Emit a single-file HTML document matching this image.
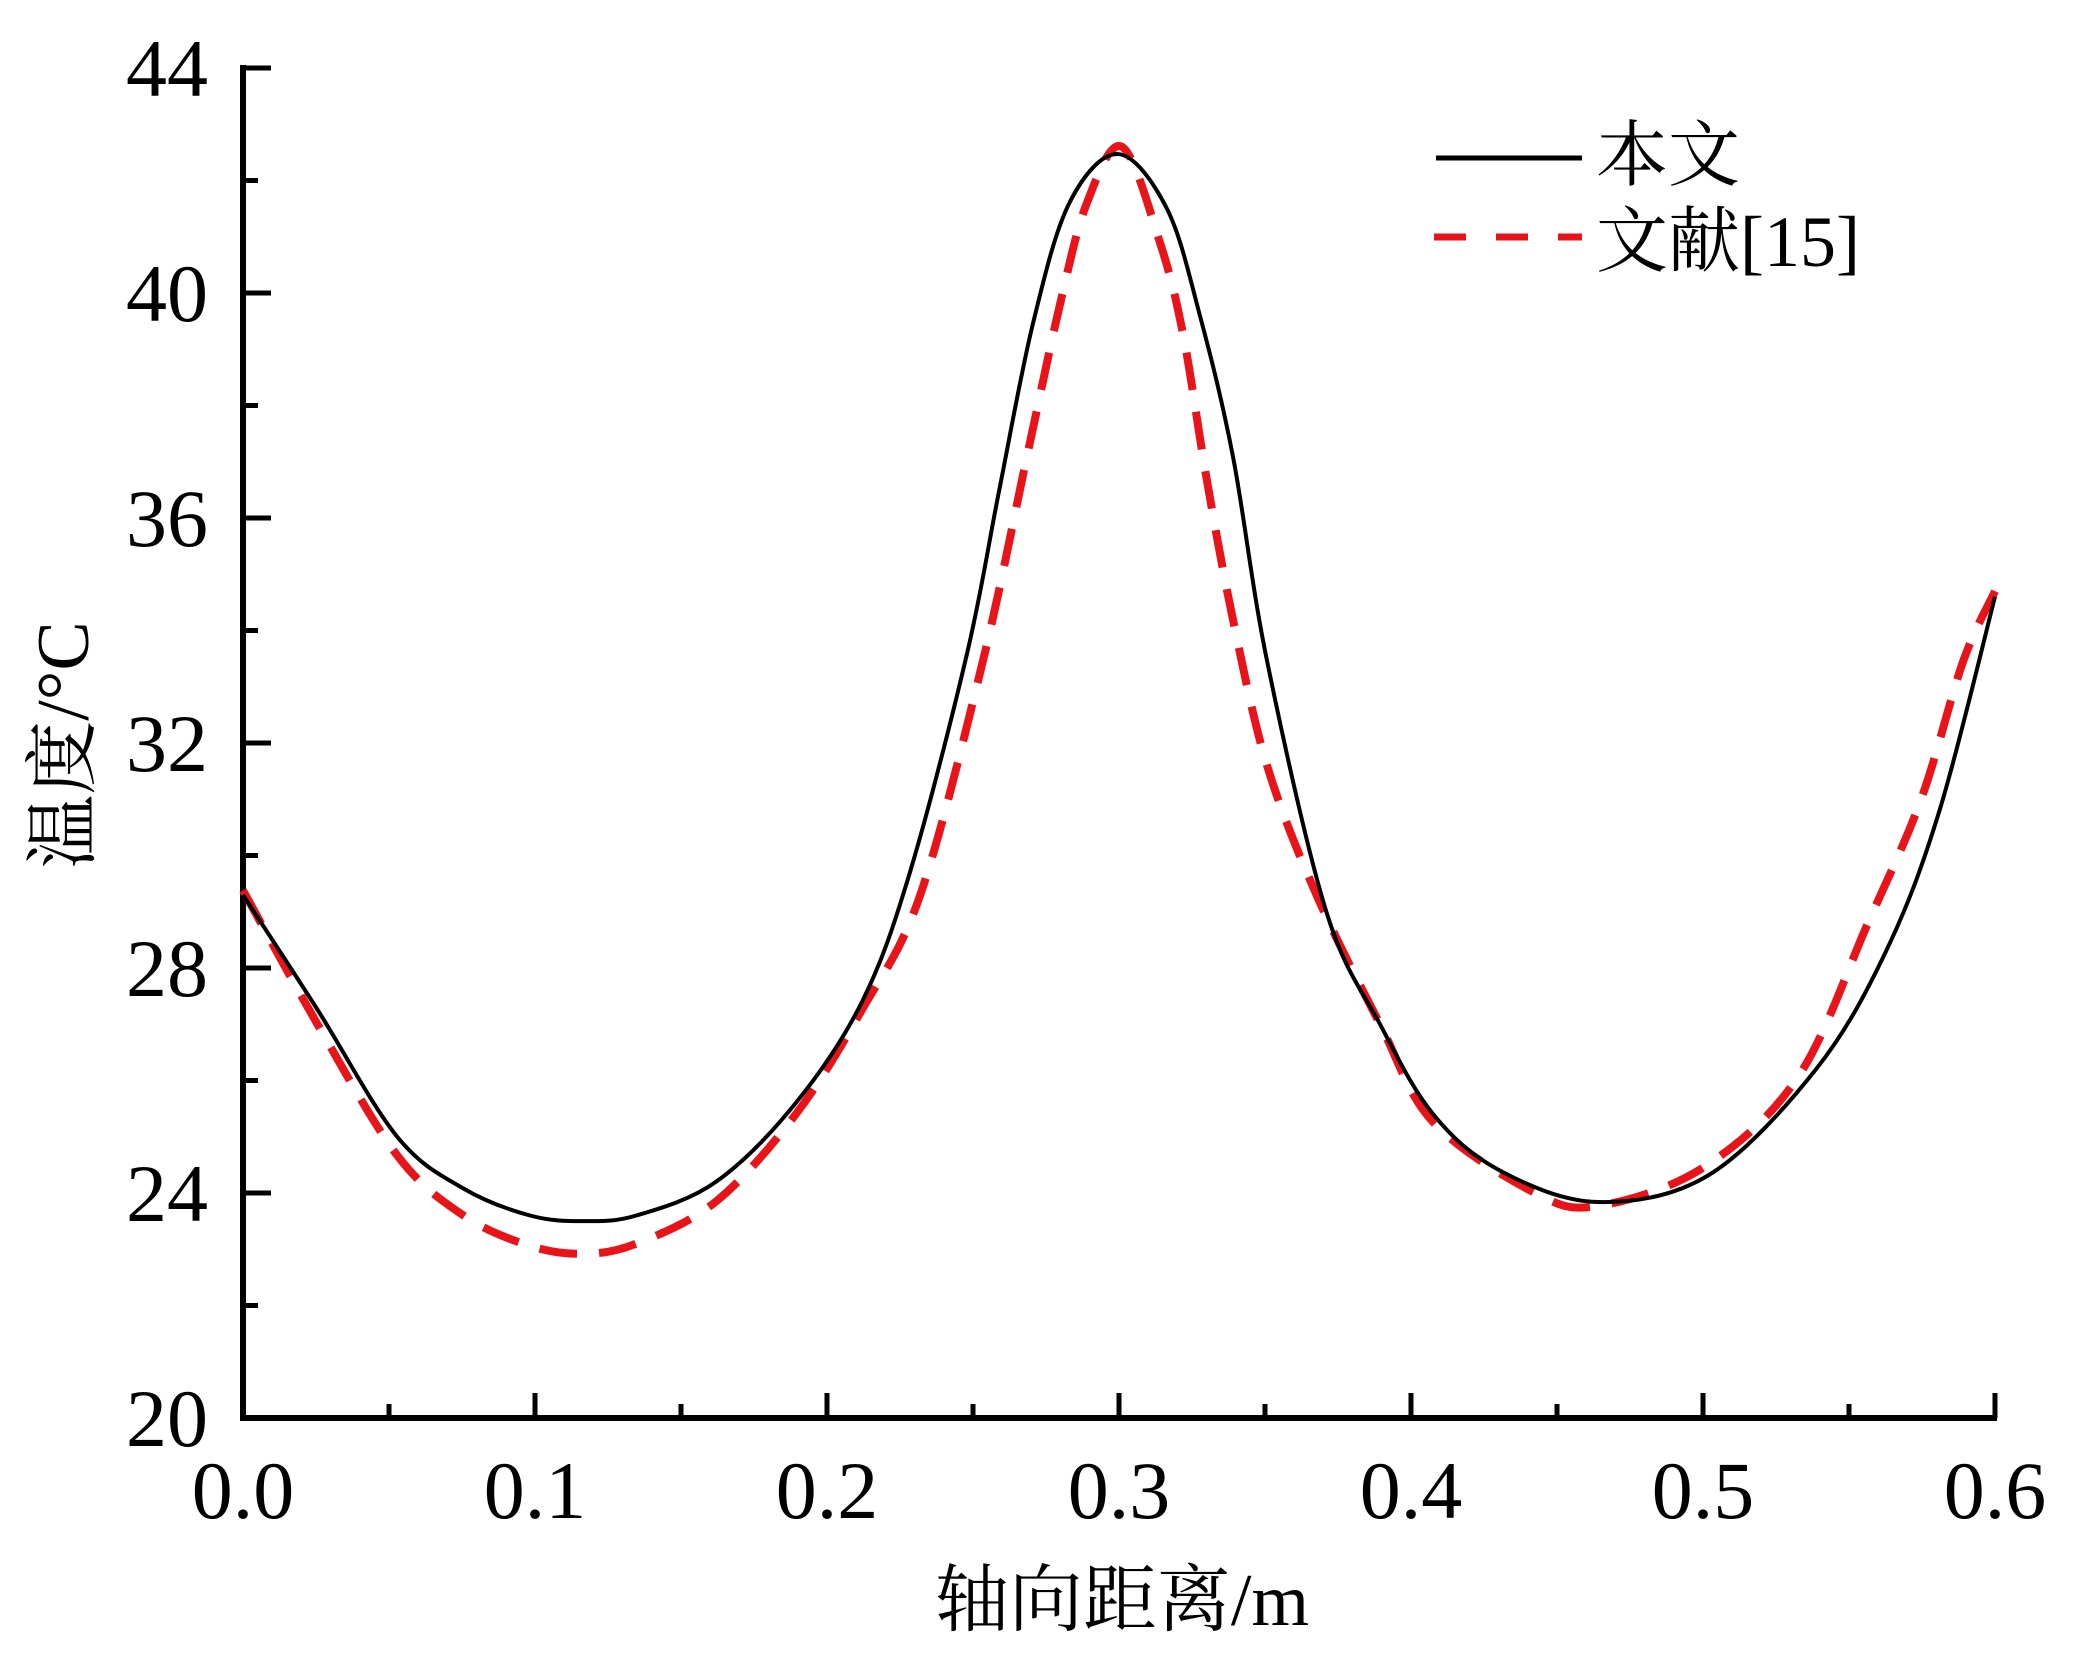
<!DOCTYPE html>
<html><head><meta charset="utf-8"><style>
html,body{margin:0;padding:0;background:#fff;}
svg{display:block;}
text{font-family:"Liberation Serif","Noto Serif CJK SC","Noto Sans CJK SC",serif;fill:#000;}
</style></head><body>
<svg id="chart" width="2079" height="1677" viewBox="0 0 2079 1677">
<g id="axes"></g>
<g id="series"></g>
<g>
 <line x1="1436" y1="158" x2="1582" y2="158" stroke="#000" stroke-width="5"/>
 <text x="1596" y="180" font-size="72">本文</text>
 <line x1="1434" y1="237" x2="1582" y2="237" stroke="#e8141a" stroke-width="7" stroke-dasharray="32,30"/>
 <text x="1596" y="266" font-size="72">文献[15]</text>
</g>
<text x="1122" y="1625" font-size="74" text-anchor="middle">轴向距离/m</text>
<text transform="translate(88,745) rotate(-90)" font-size="74" text-anchor="middle">温度/°C</text>
</svg>
<script>
const xTicks=[0,0.1,0.2,0.3,0.4,0.5,0.6];
const xTickLabels=["0.0","0.1","0.2","0.3","0.4","0.5","0.6"];
const yTicks=[20,24,28,32,36,40,44];
const yTickLabels=["20","24","28","32","36","40","44"];
const blackX=[0,0.0255,0.0528,0.0755,0.0983,0.1165,0.1347,0.162,0.1893,0.212,0.2284,0.248,0.259,0.2705,0.283,0.2997,0.3164,0.3277,0.339,0.3507,0.371,0.3894,0.4076,0.4304,0.464,0.502,0.5387,0.5627,0.581,0.6];
const blackY=[29.3,27.26,25.0,24.08,23.6,23.5,23.6,24.2,25.6,27.4,29.7,33.6,36.5,39.45,41.6,42.47,41.5,39.6,37.1,33.46,29.0,27.0,25.4,24.4,23.84,24.32,26.2,28.3,30.8,34.6];
const redX=[0,0.0255,0.0528,0.0755,0.0983,0.1165,0.1347,0.162,0.1893,0.212,0.2318,0.2534,0.2685,0.2798,0.289,0.301,0.314,0.322,0.330,0.339,0.3507,0.3678,0.3894,0.4076,0.4425,0.464,0.5,0.5325,0.5565,0.5747,0.589,0.6];
const redY=[29.38,27.0,24.67,23.6,23.06,22.92,23.1,23.85,25.4,27.26,29.28,33.46,37.1,39.8,41.6,42.6,40.9,39.25,36.7,34.2,31.6,29.28,27.0,25.26,24.0,23.77,24.45,26.06,28.8,31.0,33.44,34.7];

const NS="http://www.w3.org/2000/svg";
const X0=243,X1=1995,Y0=1418,Y1=68;
function sx(v){return X0+(v-0)/(0.6-0)*(X1-X0);}
function sy(v){return Y0-(v-20)/(44-20)*(Y0-Y1);}
const axes=document.getElementById('axes');
function mk(tag,attrs,parent){const e=document.createElementNS(NS,tag);for(const k in attrs)e.setAttribute(k,attrs[k]);parent.appendChild(e);return e;}

let e;
e=mk('line',{x1:X0,y1:Y0,x2:X1+2,y2:Y0,stroke:'#000','stroke-width':6},axes);


e=mk('line',{x1:X0,y1:Y0+3,x2:X0,y2:Y1-3,stroke:'#000','stroke-width':6},axes);



for(let i=0;i<=12;i++){
  const v=i*0.05;const maj=i%2===0;
  e=mk('line',{x1:sx(v),y1:Y0,x2:sx(v),y2:Y0-(maj?25:14),stroke:'#000','stroke-width':5},axes);
  
  
}
xTicks.forEach((v,i)=>{
  const t=mk('text',{x:sx(v),y:Y0+100,'font-size':82,'text-anchor':'middle'},axes);
  t.textContent=xTickLabels[i];
  
  
});
for(let v=20;v<=44;v+=2){
  const maj=(v%4===0);
  e=mk('line',{x1:X0,y1:sy(v),x2:X0+(maj?28:15),y2:sy(v),stroke:'#000','stroke-width':5},axes);
  
  
}
yTicks.forEach((v,i)=>{
  const t=mk('text',{x:X0-35,y:sy(v)+28,'font-size':82,'text-anchor':'end'},axes);
  t.textContent=yTickLabels[i];
  
  
});

function pathFrom(xs,ys){
  const p=xs.map((x,i)=>[sx(x),sy(ys[i])]);
  let d='M'+p[0][0]+','+p[0][1];
  for(let i=0;i<p.length-1;i++){
    const a=p[Math.max(0,i-1)],b=p[i],c=p[i+1],dd=p[Math.min(p.length-1,i+2)];
    const c1=[b[0]+(c[0]-a[0])/6,b[1]+(c[1]-a[1])/6];
    const c2=[c[0]-(dd[0]-b[0])/6,c[1]-(dd[1]-b[1])/6];
    d+=' C'+c1.join(',')+' '+c2.join(',')+' '+c.join(',');
  }
  return d;
}
const series=document.getElementById('series');
e=mk('path',{d:pathFrom(redX,redY),fill:'none',stroke:'#e8141a','stroke-width':8,'stroke-dasharray':'38,22'},series);


e=mk('path',{d:pathFrom(blackX,blackY),fill:'none',stroke:'#000','stroke-width':4},series);


</script>
</body></html>
